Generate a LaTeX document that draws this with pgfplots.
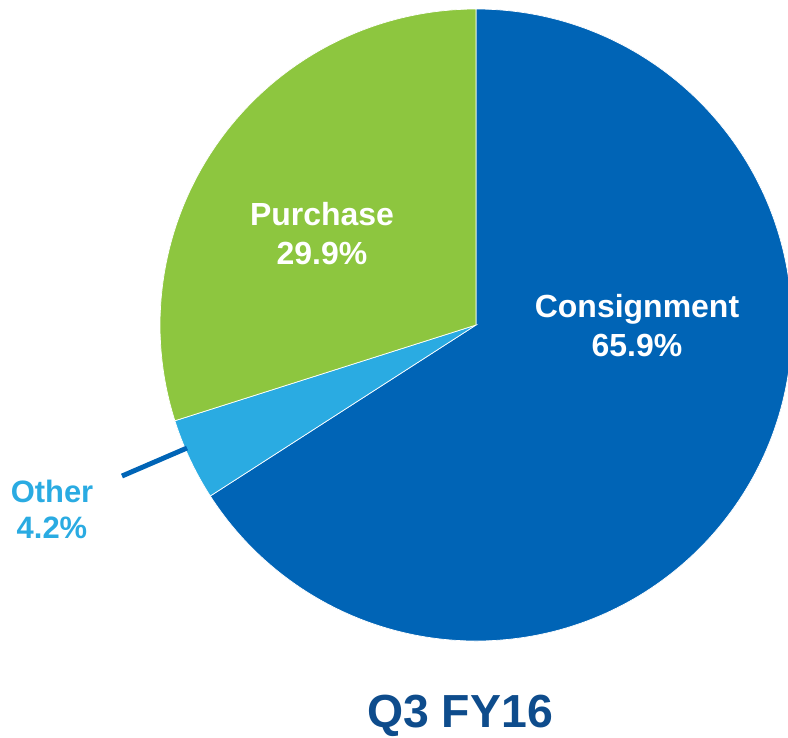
\documentclass[border=0pt]{standalone}
\usepackage{pgfplots}
\pgfplotsset{compat=1.18}
\usepackage{fontspec}
\setmainfont{Liberation Sans}
\definecolor{cons}{HTML}{0064B6}
\definecolor{oth}{HTML}{2AABE2}
\definecolor{purch}{HTML}{8DC63F}
\definecolor{titleblue}{HTML}{0E4C8C}
\def\cx{476}\def\cy{412}\def\rr{316}
\newcommand\pieslice[3]{%
  \pgfmathsetmacro\a{90-3.6*#1}%
  \pgfmathsetmacro\b{90-3.6*(#1+#2)}%
  \pgfmathsetmacro\sx{\cx+\rr*cos(\a)}%
  \pgfmathsetmacro\sy{\cy+\rr*sin(\a)}%
  \edef\temp{\noexpand\filldraw[fill=#3,draw=white,line width=0.2pt] (axis cs:\cx,\cy) -- (axis cs:\sx,\sy) arc[start angle=\a, end angle=\b, radius=3.16cm] -- cycle;}%
  \temp}
\begin{document}
\begin{tikzpicture}
\begin{axis}[width=7.88cm,height=7.37cm,scale only axis,xmin=0,xmax=788,ymin=0,ymax=737,hide axis,clip=true]
\path (axis cs:0,0) rectangle (axis cs:788,737);
% values: Consignment 65.9, Other 4.2, Purchase 29.9 (clockwise from top)
\pieslice{0}{65.9}{cons}
\pieslice{65.9}{4.2}{oth}
\pieslice{70.1}{29.9}{purch}
\draw[cons,line width=1.4pt] (axis cs:122,261) -- (axis cs:187,289);
\node[font=\bfseries\fontsize{9.1}{11.1}\selectfont,text=white,align=center] at (axis cs:637,411.5) {Consignment\\65.9\%};
\node[font=\bfseries\fontsize{9.1}{11.1}\selectfont,text=white,align=center] at (axis cs:322,503.5) {Purchase\\29.9\%};
\node[font=\bfseries\fontsize{8.8}{10.2}\selectfont,text=oth,align=center] at (axis cs:52,228) {Other\\4.2\%};
\node[font=\bfseries\fontsize{13.2}{15}\selectfont,text=titleblue] at (axis cs:460,21) {Q3 FY16};
\end{axis}
\end{tikzpicture}
\end{document}
